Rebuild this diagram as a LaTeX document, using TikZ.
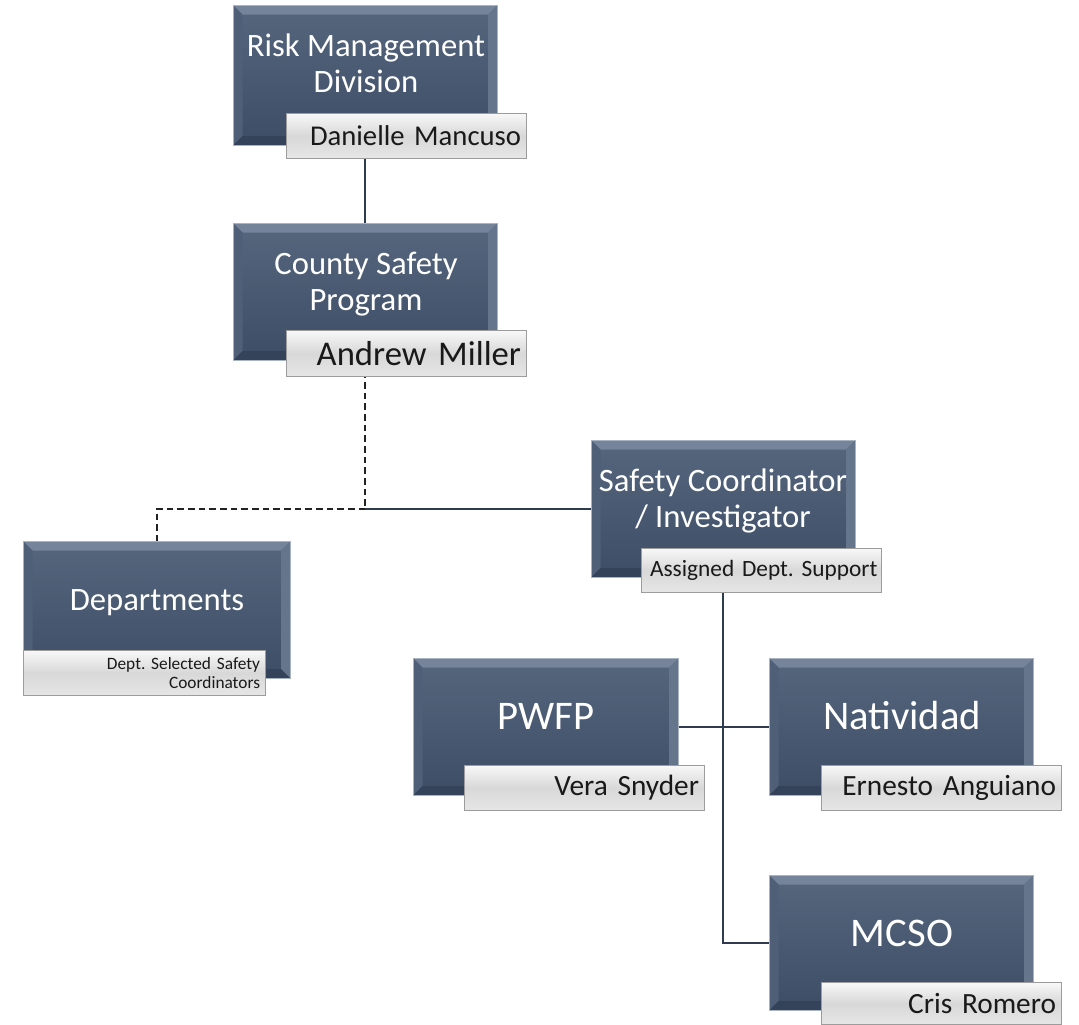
\documentclass[tikz,border=0pt]{standalone}
\usepackage{fontspec}
\setmainfont{Carlito}
\frenchspacing
\usetikzlibrary{backgrounds,calc}
\definecolor{face1}{HTML}{56667D}
\definecolor{face2}{HTML}{3D4D66}
\definecolor{bevT}{HTML}{75849A}
\definecolor{bevL}{HTML}{4F5F78}
\definecolor{bevR}{HTML}{65758C}
\definecolor{bevB}{HTML}{34435A}
\definecolor{edgeC}{HTML}{A9B4C2}
\definecolor{lineC}{HTML}{2F3C50}
\definecolor{dashC}{HTML}{222222}
\definecolor{lab1}{HTML}{F8F8F8}
\definecolor{lab2}{HTML}{D8D8D8}
\definecolor{lab3}{HTML}{E6E6E6}
\definecolor{labB}{HTML}{9C9C9C}
\tikzset{
  orgbox/.style={rectangle, inner sep=0pt, minimum width=198pt, minimum height=102.75pt,
    anchor=north west, top color=face1, bottom color=face2, draw=edgeC, line width=0.5pt,
    path picture={
      \coordinate (NW) at (path picture bounding box.north west);
      \coordinate (NE) at (path picture bounding box.north east);
      \coordinate (SW) at (path picture bounding box.south west);
      \coordinate (SE) at (path picture bounding box.south east);
      \fill[bevT] (NW) -- (NE) -- ([shift={(-7pt,-7pt)}]NE) -- ([shift={(7pt,-7pt)}]NW) -- cycle;
      \fill[bevL] (NW) -- (SW) -- ([shift={(7pt,7pt)}]SW) -- ([shift={(7pt,-7pt)}]NW) -- cycle;
      \fill[bevR] (NE) -- (SE) -- ([shift={(-7pt,7pt)}]SE) -- ([shift={(-7pt,-7pt)}]NE) -- cycle;
      \fill[bevB] (SW) -- (SE) -- ([shift={(-7pt,7pt)}]SE) -- ([shift={(7pt,7pt)}]SW) -- cycle;
    }},
  boxtext/.style={text=white, align=center, inner sep=0pt, font=\fontsize{24.5}{27}\selectfont},
  bigtext/.style={text=white, align=center, inner sep=0pt, font=\fontsize{30.5}{34}\selectfont},
  labbox/.style={rectangle, draw=labB, line width=0.6pt, top color=lab1, bottom color=lab3,
    middle color=lab2, minimum width=180pt, minimum height=33.75pt, anchor=north west,
    inner xsep=4pt, inner ysep=0pt, text width=172pt, align=right, text=black!90,
    font=\fontsize{22}{25}\selectfont},
  conn/.style={draw=lineC, line width=1.5pt},
  dconn/.style={draw=dashC, line width=1.5pt, dash pattern=on 5pt off 3pt},
}
\begin{document}
\begin{tikzpicture}[x=0.75pt, y=-0.75pt]
\useasboundingbox (0,0) rectangle (1079,1025);
\begin{pgfonlayer}{background}
  \fill[white] (0,0) rectangle (1079,1025);
\end{pgfonlayer}

% Risk Management Division
\node[orgbox, minimum height=105pt] (rmd) at (233,5) {};
\node[boxtext] (rmdT) at (366,63) {Risk Management\\Division};
\node[labbox, font=\fontsize{21.5}{25}\selectfont] (rmdL) at (286,113) {Danielle Mancuso};

% County Safety Program
\node[orgbox] (csp) at (233,223) {};
\node[boxtext] (cspT) at (366,284) {County Safety\\Program};
\node[labbox, minimum height=34.5pt, font=\fontsize{26}{28}\selectfont] (cspL) at (286,330) {Andrew Miller};

% Safety Coordinator / Investigator
\node[orgbox] (sc) at (591,440) {};
\node[boxtext] (scT) at (723,501) {Safety Coordinator\\/ Investigator};
\node[labbox, minimum height=33pt, inner xsep=3pt, text width=174pt, font=\fontsize{17.5}{20}\selectfont] (scL) at (641,548) {Assigned Dept. Support};

% Departments
\node[orgbox, minimum width=200.25pt] (dep) at (23,541) {};
\node[boxtext] (depT) at (157,603) {Departments};
\node[labbox, minimum width=181.5pt, text width=173.5pt, font=\fontsize{13}{14.25}\selectfont] (depL) at (23,650) {Dept. Selected Safety\\Coordinators};

% PWFP
\node[orgbox, minimum width=198.75pt] (pwfp) at (413,658) {};
\node[bigtext] (pwfpT) at (546,716) {PWFP};
\node[labbox] (pwfpL) at (464,765) {Vera Snyder};

% Natividad
\node[orgbox] (nat) at (769,658) {};
\node[bigtext] (natT) at (902,716) {Natividad};
\node[labbox] (natL) at (821,765) {Ernesto Anguiano};

% MCSO
\node[orgbox, minimum height=101.25pt] (mcso) at (769,875) {};
\node[bigtext] (mcsoT) at (902,933) {MCSO};
\node[labbox, minimum height=31.5pt] (mcsoL) at (821,982) {Cris Romero};

% connectors
\begin{scope}[on background layer]
  \coordinate (j1) at (csp.south |- sc.west);
  \coordinate (j2) at (sc.south |- mcso.west);
  \draw[conn] (rmd.south) -- (csp.north);
  \draw[dconn] (csp.south) -- (j1);
  \draw[conn] (j1) -- (sc.west);
  \draw[dconn] (j1) -| (dep.north);
  \draw[conn] (sc.south) -- (j2) -- (mcso.west);
  \draw[conn] (pwfp.east) -- (nat.west);
\end{scope}
\end{tikzpicture}
\end{document}
